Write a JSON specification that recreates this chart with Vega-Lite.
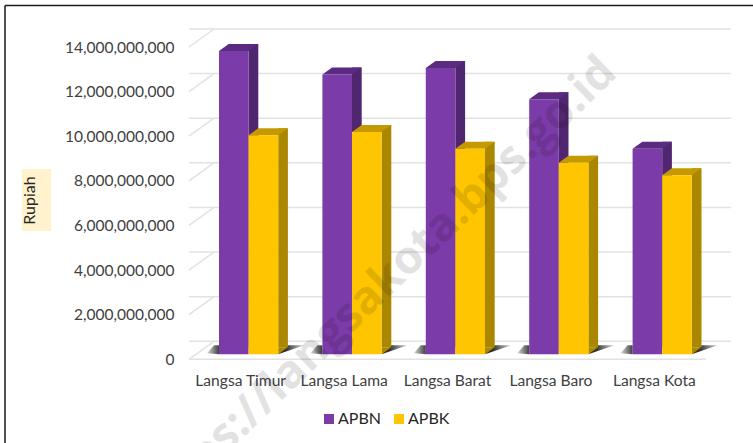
{
"$schema":"https://vega.github.io/schema/vega-lite/v6.json",
"width":517,"height":312.3,
"autosize":{"type":"none"},
"padding":{"left":189,"top":47,"right":47,"bottom":83.7},
"background":"#ffffff",
"config":{"view":{"stroke":null},"font":"Lato"},
"datasets":{
"rows":[
{"kecamatan":"Langsa Timur","series":"APBN","value":13600000000},
{"kecamatan":"Langsa Lama","series":"APBN","value":12540000000},
{"kecamatan":"Langsa Barat","series":"APBN","value":12840000000},
{"kecamatan":"Langsa Baro","series":"APBN","value":11430000000},
{"kecamatan":"Langsa Kota","series":"APBN","value":9210000000},
{"kecamatan":"Langsa Timur","series":"APBK","value":9820000000},
{"kecamatan":"Langsa Lama","series":"APBK","value":9960000000},
{"kecamatan":"Langsa Barat","series":"APBK","value":9210000000},
{"kecamatan":"Langsa Baro","series":"APBK","value":8590000000},
{"kecamatan":"Langsa Kota","series":"APBK","value":8030000000}
],
"ticks":[{"tick":0},{"tick":2000000000},{"tick":4000000000},{"tick":6000000000},{"tick":8000000000},{"tick":10000000000},{"tick":12000000000},{"tick":14000000000}]
},
"data":{"name":"rows"},
"layer":[
{"mark":{"type":"rect","fill":"#FFF2CC"},
 "data":{"values":[{"a":1}]},
 "encoding":{"x":{"value":-167},"x2":{"value":-138},"y":{"value":122},"y2":{"value":184}}},
{"data":{"name":"ticks"},
 "mark":{"type":"rule","stroke":"#E2E2E2","strokeWidth":1.5,"xOffset":25,"yOffset":-18},
 "encoding":{"y":{"field":"tick","type":"quantitative","scale":{"domain":[0,14000000000],"nice":false,"zero":true},
  "axis":{"values":[0,2000000000,4000000000,6000000000,8000000000,10000000000,12000000000,14000000000],"format":",.0f","grid":false,"domain":false,"ticks":false,"labelPadding":15,"labelFontSize":15.5,"labelColor":"#404040","labelFont":"Lato","title":"Rupiah","titleFont":"Lato","titleFontSize":16,"titleFontWeight":"normal","titleColor":"#262626","titleX":-152,"titleY":153,"zindex":1}}}},
{"data":{"name":"ticks"},
 "mark":{"type":"point","filled":false,"size":4,"stroke":"#E2E2E2","strokeWidth":1.5,"opacity":1,"shape":"M0,0L25,-18","xOffset":-51.7},
 "encoding":{"x":{"datum":"Langsa Timur","type":"nominal","sort":null,"scale":{"type":"band","paddingInner":0,"paddingOuter":0},
   "axis":{"title":null,"domain":false,"ticks":false,"grid":false,"labelAngle":0,"labelPadding":14,"labelFontSize":15.6,"labelColor":"#404040","labelFont":"Lato"}},
  "y":{"field":"tick","type":"quantitative"}}},
{"data":{"values":[{"tick":0}]},
 "mark":{"type":"rule","stroke":"#E2E2E2","strokeWidth":1.5},
 "encoding":{"y":{"field":"tick","type":"quantitative"}}},
{"transform":[{"filter":"datum.series==='APBK'"}],
 "mark":{"type":"point","filled":true,"size":4,"opacity":1,"xOffset":37.5,"yOffset":-5,"shape":"M0,0L26,-9L9.7,-9Z","fill":{"gradient":"linear","x1":0.3,"x2":1,"y1":0,"y2":0,"stops":[{"offset":0,"color":"#303030"},{"offset":1,"color":"#d8d8d8"}]}},
 "encoding":{"x":{"field":"kecamatan","type":"nominal","sort":null},"y":{"datum":0,"type":"quantitative"}}},
{"transform":[{"filter":"datum.series==='APBN'"}],
 "mark":{"type":"point","filled":true,"size":4,"opacity":1,"xOffset":-21.7,"yOffset":-5,"shape":"M0,0L-12,-1L-5,-9L0,-9Z","fill":{"gradient":"linear","x1":0,"x2":1,"y1":0,"y2":0,"stops":[{"offset":0,"color":"#d8d8d8"},{"offset":1,"color":"#404040"}]}},
 "encoding":{"x":{"field":"kecamatan","type":"nominal","sort":null},"y":{"datum":0,"type":"quantitative"}}},
{"transform":[{"filter":"datum.series==='APBN'"}],
 "mark":{"type":"bar","fill":"#512670","width":9.7,"xOffset":12.75,"yOffset":-12},
 "encoding":{"x":{"field":"kecamatan","type":"nominal","sort":null},"y":{"field":"value","type":"quantitative"}}},
{"transform":[{"filter":"datum.series==='APBN'"}],
 "mark":{"type":"point","filled":true,"size":4,"opacity":1,"xOffset":-21.7,"yOffset":-5,"shape":"M0,0L29.6,0L39.3,-7L9.7,-7Z","fill":"#5B2B82"},
 "encoding":{"x":{"field":"kecamatan","type":"nominal","sort":null},"y":{"field":"value","type":"quantitative"}}},
{"transform":[{"filter":"datum.series==='APBN'"}],
 "mark":{"type":"bar","width":29.6,"xOffset":-6.9,"yOffset":-5},
 "encoding":{"x":{"field":"kecamatan","type":"nominal","sort":null},"y":{"field":"value","type":"quantitative"},
  "color":{"field":"series","type":"nominal","scale":{"domain":["APBN","APBK"],"range":["#7B3BA8","#FFC600"]},
   "legend":{"title":null,"orient":"none","direction":"horizontal","legendX":132,"legendY":364,"symbolType":"square","symbolSize":100,"symbolStrokeWidth":0,"labelFontSize":16,"labelColor":"#262626","labelFont":"Lato","columnPadding":10,"labelOffset":1}}}},
{"transform":[{"filter":"datum.series==='APBK'"}],
 "mark":{"type":"bar","fill":"#AB8700","width":9.7,"xOffset":42.35,"yOffset":-12},
 "encoding":{"x":{"field":"kecamatan","type":"nominal","sort":null},"y":{"field":"value","type":"quantitative"}}},
{"transform":[{"filter":"datum.series==='APBK'"}],
 "mark":{"type":"point","filled":true,"size":4,"opacity":1,"xOffset":37.5,"yOffset":-5,"shape":"M0,0L9.7,-7L0,-7Z","fill":"#AB8700"},
 "encoding":{"x":{"field":"kecamatan","type":"nominal","sort":null},"y":{"datum":0,"type":"quantitative"}}},
{"transform":[{"filter":"datum.series==='APBK'"}],
 "mark":{"type":"point","filled":true,"size":4,"opacity":1,"xOffset":7.9,"yOffset":-5,"shape":"M0,0L29.6,0L39.3,-7L9.7,-7Z","fill":"#C49A00"},
 "encoding":{"x":{"field":"kecamatan","type":"nominal","sort":null},"y":{"field":"value","type":"quantitative"}}},
{"transform":[{"filter":"datum.series==='APBK'"}],
 "mark":{"type":"bar","width":29.6,"xOffset":22.7,"yOffset":-5},
 "encoding":{"x":{"field":"kecamatan","type":"nominal","sort":null},"y":{"field":"value","type":"quantitative"},
  "color":{"field":"series","type":"nominal"}}},
{"data":{"values":[{"t":"https://langsakota.bps.go.id"}]},
 "mark":{"type":"text","angle":-44,"align":"right","baseline":"middle","fontSize":46,"fontWeight":"bold","font":"Open Sans","fill":"#000000","opacity":0.11,"clip":false},
 "encoding":{"text":{"field":"t"},"x":{"value":420},"y":{"value":18}}},
{"data":{"values":[{"a":1}]},
 "mark":{"type":"rule","stroke":"#1a1a1a","strokeWidth":1.5},
 "encoding":{"x":{"value":-184},"x2":{"value":564},"y":{"value":-41.5}}},
{"data":{"values":[{"a":1}]},
 "mark":{"type":"rule","stroke":"#1a1a1a","strokeWidth":1.5},
 "encoding":{"x":{"value":-184},"y":{"value":-41.5},"y2":{"value":396}}}
]
}
